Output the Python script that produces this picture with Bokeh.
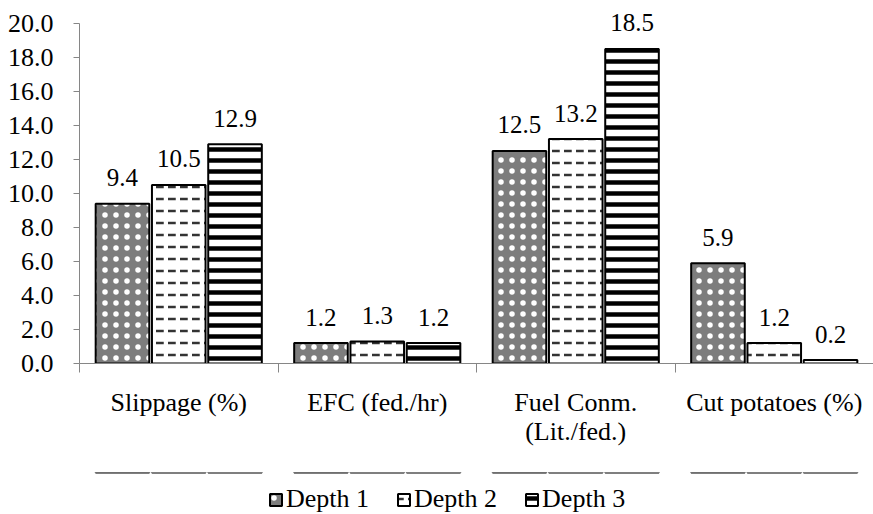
from bokeh.plotting import figure
from bokeh.layouts import column
from bokeh.models import Range1d, FixedTicker, Legend, LegendItem, NumeralTickFormatter
from bokeh.core.properties import value
from bokeh.embed import file_html
from bokeh.resources import INLINE

# ---- data ----
categories = ["Slippage (%)", "EFC (fed./hr)", "Fuel Conm.\n(Lit./fed.)", "Cut potatoes (%)"]
series_names = ["Depth 1", "Depth 2", "Depth 3"]
depth1 = [9.4, 1.2, 12.5, 5.9]
depth2 = [10.5, 1.3, 13.2, 1.2]
depth3 = [12.9, 1.2, 18.5, 0.2]
y_ticks = [0, 2, 4, 6, 8, 10, 12, 14, 16, 18, 20]

FONT = "Liberation Serif"
AXIS_GRAY = "#868686"

n = len(categories)
centres = [i + 0.5 for i in range(n)]
bounds = [float(i) for i in range(n + 1)]

Y_TOP = 21.35  # headroom above the last tick so the value labels are not clipped

p = figure(width=873, height=472,
           x_range=Range1d(0, n), y_range=Range1d(y_ticks[0], Y_TOP),
           output_backend="svg", toolbar_location=None,
           min_border_left=79, min_border_right=0, min_border_top=0,
           min_border_bottom=109)
p.outline_line_color = None
p.xgrid.visible = False
p.ygrid.visible = False

styles = [
    dict(fill_color="#7d7d7d", hatch_pattern=".", hatch_color="white", hatch_scale=11, hatch_weight=2.5),
    dict(fill_color="white", hatch_pattern='"', hatch_color="#333333", hatch_scale=12, hatch_weight=2.5),
    dict(fill_color="white", hatch_pattern="-", hatch_color="black", hatch_scale=11, hatch_weight=4.5),
]
offsets = [-0.2835, 0.0, 0.2835]
series = [depth1, depth2, depth3]

for vals, off, st in zip(series, offsets, styles):
    xs = [c + off for c in centres]
    p.vbar(x=xs, top=vals, bottom=0, width=0.27, line_color="black", line_width=2, **st)
    p.text(x=xs, y=vals, text=[f"{v:.1f}" for v in vals], text_align="center",
           text_baseline="alphabetic", y_offset=-26, text_color="black",
           text_font=value(FONT), text_font_size="25px")

# y axis
p.yaxis.ticker = FixedTicker(ticks=y_ticks)
p.yaxis.bounds = (y_ticks[0], y_ticks[-1])
p.yaxis.formatter = NumeralTickFormatter(format="0.0")
p.yaxis.major_label_text_font = FONT
p.yaxis.major_label_text_font_size = "26px"
p.yaxis.major_label_text_color = "black"
p.yaxis.axis_line_color = AXIS_GRAY
p.yaxis.major_tick_line_color = AXIS_GRAY
p.yaxis.major_tick_in = 0
p.yaxis.major_tick_out = 6
p.yaxis.minor_tick_line_color = None
p.yaxis.major_label_standoff = 20

# x axis
p.xaxis.ticker = FixedTicker(ticks=centres, minor_ticks=bounds)
p.xaxis.major_label_overrides = {c: cat for c, cat in zip(centres, categories)}
p.xaxis.major_label_text_font = FONT
p.xaxis.major_label_text_font_size = "26px"
p.xaxis.major_label_text_color = "black"
p.xaxis.major_label_text_line_height = 1.0
p.xaxis.axis_line_color = AXIS_GRAY
p.xaxis.major_tick_line_color = None
p.xaxis.major_tick_in = 0
p.xaxis.major_tick_out = 0
p.xaxis.minor_tick_line_color = AXIS_GRAY
p.xaxis.minor_tick_in = 0
p.xaxis.minor_tick_out = 9
p.xaxis.major_label_standoff = 15

# ---- legend strip (separate figure under the chart; its bars lie far outside its view) ----
lg = figure(width=873, height=42, output_backend="svg", toolbar_location=None,
            x_axis_type=None, y_axis_type=None,
            x_range=Range1d(0, n), y_range=Range1d(-1000, -999),
            min_border_left=0, min_border_right=0, min_border_top=0, min_border_bottom=0)
lg.outline_line_color = None
lg.xgrid.visible = False
lg.ygrid.visible = False
items = []
for name, vals, off, st in zip(series_names, series, offsets, styles):
    xs = [c + off for c in centres]
    r = lg.vbar(x=xs, top=vals, bottom=0, width=0.27, line_color="black", line_width=2, **st)
    items.append(LegendItem(label=name, renderers=[r]))

legend = Legend(items=items, orientation="horizontal", location=(189, 0),
                label_text_font=FONT, label_text_font_size="26px", label_text_color="black",
                glyph_width=15, glyph_height=15, spacing=27, label_standoff=3,
                border_line_color=None, background_fill_alpha=0, padding=0, margin=0)
lg.add_layout(legend, "center")

open("out.html", "w").write(file_html(column(p, lg, spacing=0), INLINE))
